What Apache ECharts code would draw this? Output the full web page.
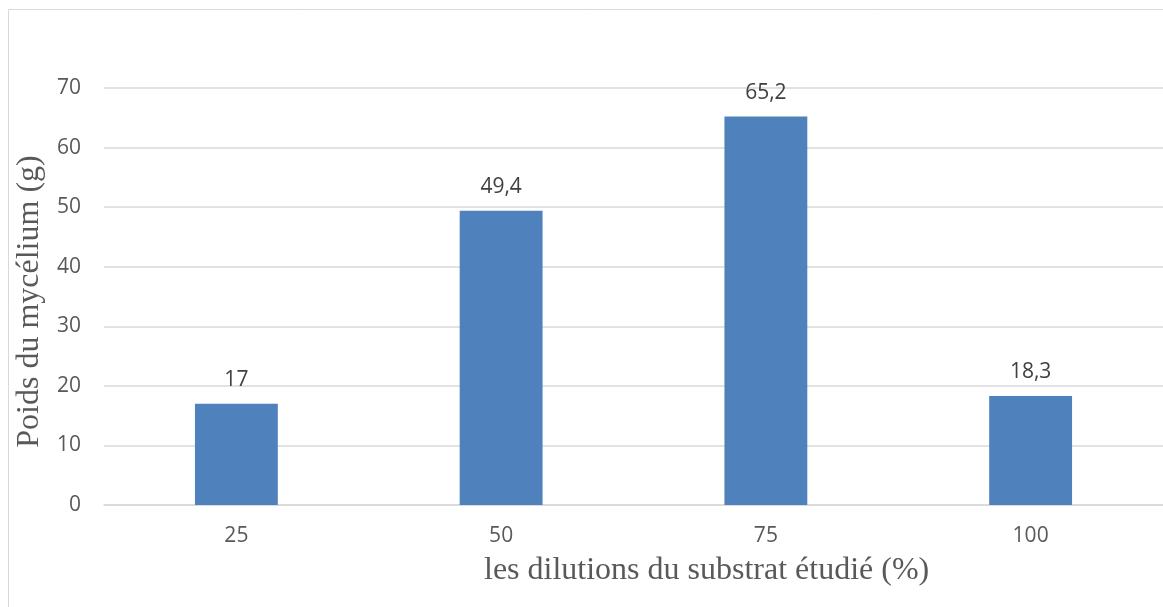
<!DOCTYPE html>
<html>
<head>
<meta charset="utf-8">
<script src="https://cdn.jsdelivr.net/npm/echarts@6/dist/echarts.min.js"></script>
<style>
  html, body { margin: 0; padding: 0; background: #ffffff; }
  #chart { width: 1163px; height: 607px; }
</style>
</head>
<body>
<div id="chart"></div>
<script>
// Dilution levels of the substrate (%)
const dilutions = ['25', '50', '75', '100'];
// Mycelium weight (g) for each dilution
const mycelium = [17, 49.4, 65.2, 18.3];
// Y axis range
const yMin = 0;
const yMax = 70;
const yStep = 10;

const chart = echarts.init(document.getElementById('chart'), null, { renderer: 'canvas' });

const sansFont = '"Open Sans", "Noto Sans", sans-serif';
const serifFont = '"Liberation Serif", "DejaVu Serif", serif';

chart.setOption({
  animation: false,
  backgroundColor: '#ffffff',
  grid: { left: 104, right: 0, top: 88, bottom: 102, containLabel: false },
  graphic: [
    {
      type: 'rect',
      silent: true,
      shape: { x: 8.5, y: 9.5, width: 1400, height: 800 },
      style: { fill: 'none', stroke: '#d9d9d9', lineWidth: 1 }
    },
    {
      type: 'text',
      left: 484,
      top: 555,
      style: {
        text: 'les dilutions du substrat étudié (%)',
        font: '32px ' + serifFont,
        fill: '#595959'
      }
    }
  ],
  xAxis: {
    type: 'category',
    data: dilutions,
    axisLine: { show: true, lineStyle: { color: '#d9d9d9', width: 1.5 } },
    axisTick: { show: false },
    axisLabel: { color: '#595959', fontSize: 21, fontFamily: sansFont, margin: 21 }
  },
  yAxis: {
    type: 'value',
    min: yMin,
    max: yMax,
    interval: yStep,
    name: 'Poids du mycélium (g)',
    nameLocation: 'middle',
    nameGap: 43,
    nameTextStyle: { color: '#595959', fontSize: 32, fontFamily: serifFont, padding: [0, 10, 0, 0] },
    axisLine: { show: false },
    axisTick: { show: false },
    axisLabel: { color: '#595959', fontSize: 21, fontFamily: sansFont, margin: 23 },
    splitLine: { lineStyle: { color: '#d9d9d9', width: 1.5 } }
  },
  series: [
    {
      type: 'bar',
      data: mycelium,
      barWidth: '31.3%',
      itemStyle: { color: '#4f81bd' },
      label: {
        show: true,
        position: 'top',
        distance: 13,
        color: '#404040',
        fontSize: 21,
        fontFamily: sansFont,
        formatter: p => String(p.value).replace('.', ',')
      }
    }
  ]
});
</script>
</body>
</html>
